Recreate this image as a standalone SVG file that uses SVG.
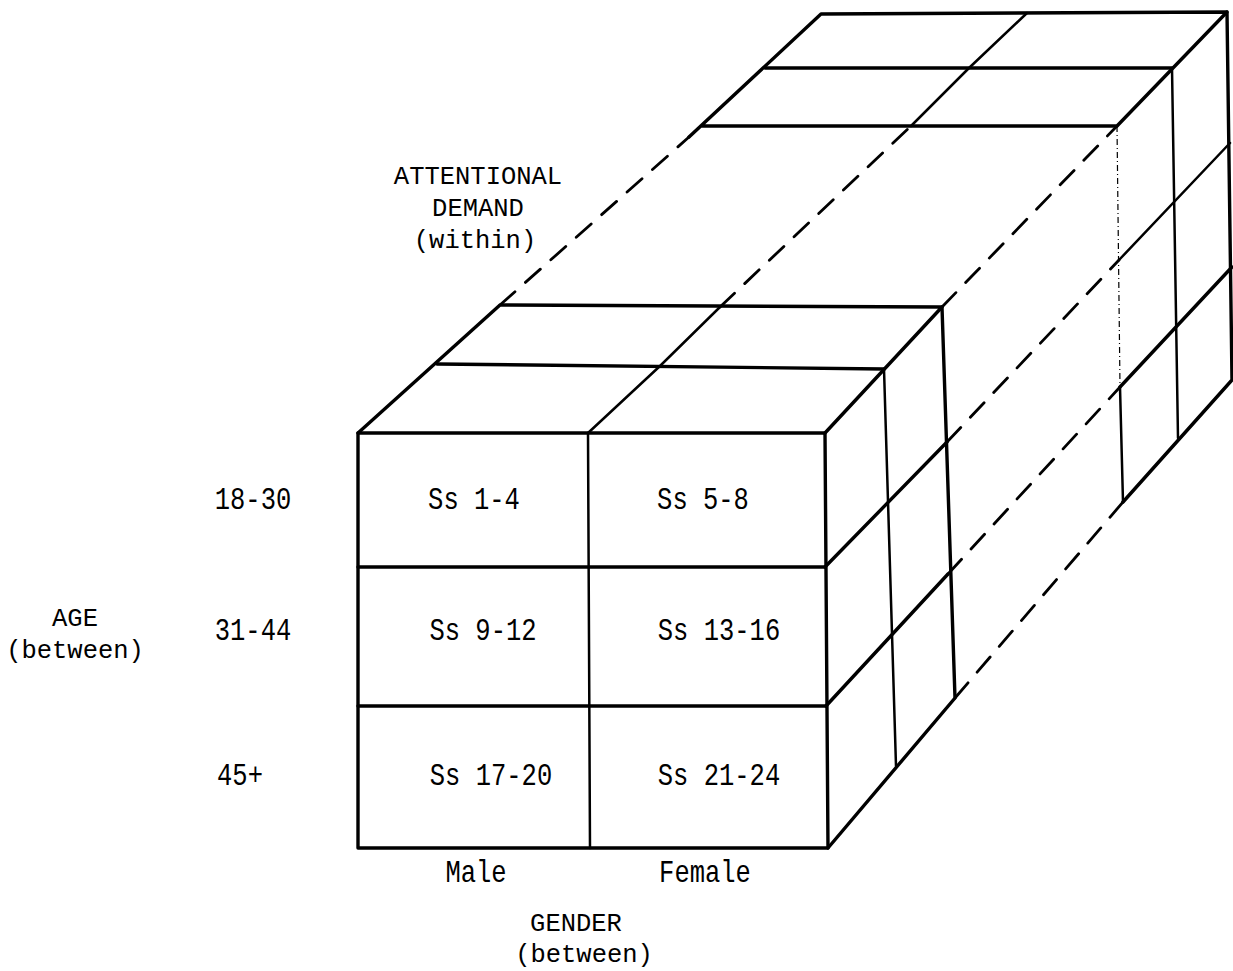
<svg xmlns="http://www.w3.org/2000/svg" width="1233" height="971" viewBox="0 0 1233 971">
  <style>
    .edge { fill: none; stroke: #000; stroke-width: 3.4; stroke-linecap: round; stroke-linejoin: round; }
    .inner { fill: none; stroke: #000; stroke-width: 2.5; stroke-linecap: round; }
    .dash { fill: none; stroke: #000; stroke-width: 2.8; stroke-dasharray: 20 14; stroke-linecap: round; }
    .faint { fill: none; stroke: #000; stroke-width: 1.2; stroke-dasharray: 6 3 1 3; }
    .lbl { font-family: "Liberation Mono", "DejaVu Sans Mono", monospace; font-size: 25.5px; fill: #000; text-anchor: middle; }
  </style>
  <rect width="1233" height="971" fill="#fff"/>

  <!-- back block: far end of the attentional-demand axis -->
  <g id="back-block">
    <!-- top face -->
    <path class="edge" d="M689,137 L821,14 L1227,12 L1117,126 L701,126"/>
    <path class="edge" d="M765,68 L1172,68"/>
    <path class="inner" d="M911,126 L969,68 L1027,13"/>
    <!-- right face -->
    <path class="edge" d="M1227,12 L1232,380 L1123,502"/>
    <path class="inner" d="M1172,68 L1178,438"/>
    <path class="faint" d="M1117,126 L1120,387"/>
    <path class="inner" d="M1120,387 L1123,502"/>
    <path class="inner" d="M1119,260 L1230,143"/>
    <path class="edge" d="M1120,387 L1232,267"/>
  </g>

  <!-- hidden edges joining the two blocks -->
  <g id="connectors">
    <path class="dash" d="M500,305 L689,137"/>
    <path class="dash" d="M720,307 L911,126"/>
    <path class="dash" d="M942,307 L1117,126"/>
    <path class="dash" d="M947,442 L1119,260"/>
    <path class="dash" d="M948,574 L1120,387"/>
    <path class="dash" d="M955,698 L1123,502"/>
  </g>

  <!-- front block: age x gender cells -->
  <g id="front-block">
    <!-- front face -->
    <path class="edge" d="M358,433 L825,433 L828,848 L358,848 Z"/>
    <path class="edge" d="M358,567 L825,567"/>
    <path class="edge" d="M358,706 L826,706"/>
    <path class="inner" d="M588,433 L590,848"/>
    <!-- top face -->
    <path class="edge" d="M358,433 L500,305 L942,307 L825,433"/>
    <path class="edge" d="M437,364 L884,369"/>
    <path class="inner" d="M588,433 L660,366 L720,307"/>
    <!-- right face -->
    <path class="edge" d="M942,307 L955,698 L828,848"/>
    <path class="inner" d="M884,369 L896,766"/>
    <path class="edge" d="M825,567 L947,442"/>
    <path class="edge" d="M826,706 L948,574"/>
  </g>

  <!-- single-line labels are stretched vertically like a condensed typewriter face -->
  <g id="cell-labels" class="lbl">
    <text transform="translate(474 509) scale(1 1.22)">Ss 1-4</text>
    <text transform="translate(703 509) scale(1 1.22)">Ss 5-8</text>
    <text transform="translate(483 640) scale(1 1.22)">Ss 9-12</text>
    <text transform="translate(719 640) scale(1 1.22)">Ss 13-16</text>
    <text transform="translate(491 785) scale(1 1.22)">Ss 17-20</text>
    <text transform="translate(719 785) scale(1 1.22)">Ss 21-24</text>
  </g>

  <g id="level-labels" class="lbl">
    <text transform="translate(253 509) scale(1 1.22)">18-30</text>
    <text transform="translate(253 640) scale(1 1.22)">31-44</text>
    <text transform="translate(240 785) scale(1 1.22)">45+</text>
    <text transform="translate(476 882) scale(1 1.22)">Male</text>
    <text transform="translate(705 882) scale(1 1.22)">Female</text>
  </g>

  <g id="factor-labels" class="lbl">
    <text x="478" y="184">ATTENTIONAL</text>
    <text x="478" y="216">DEMAND</text>
    <text x="475" y="248">(within)</text>
    <text x="75" y="626">AGE</text>
    <text x="75" y="658">(between)</text>
    <text x="576" y="931">GENDER</text>
    <text x="584" y="962">(between)</text>
  </g>
</svg>
